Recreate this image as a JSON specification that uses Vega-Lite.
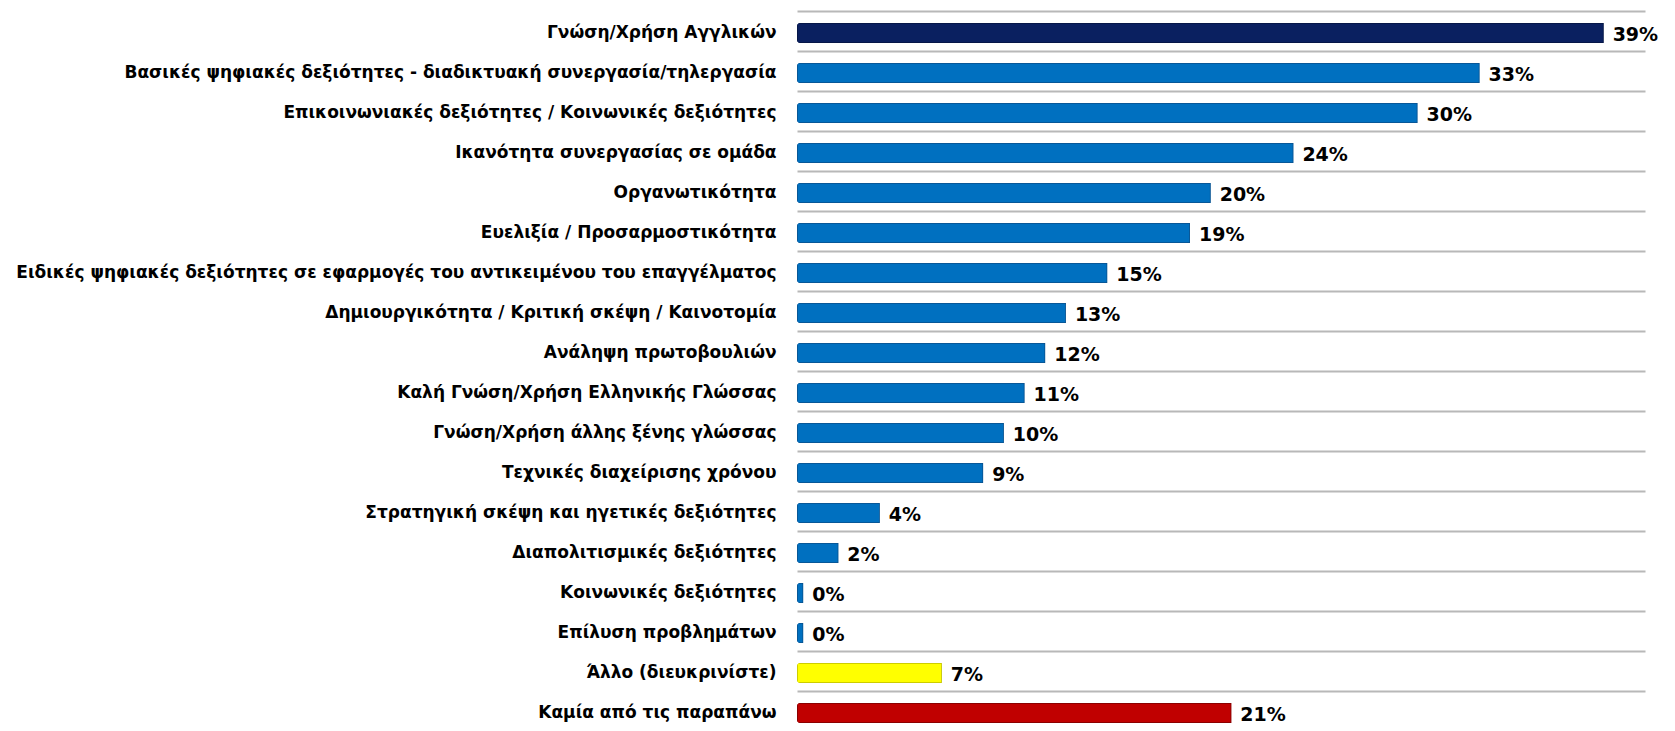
{
  "$schema": "https://vega.github.io/schema/vega-lite/v6.json",
  "autosize": "none",
  "width": 848,
  "height": 720,
  "padding": {"left": 797, "top": 13, "right": 30, "bottom": 0},
  "background": "white",
  "config": {"view": {"stroke": null}},
  "data": {
    "values": [
      {"skill": "Γνώση/Χρήση Αγγλικών", "value": 0.39, "group": "top"},
      {"skill": "Βασικές ψηφιακές δεξιότητες  - διαδικτυακή συνεργασία/τηλεργασία", "value": 0.33, "group": "skill"},
      {"skill": "Επικοινωνιακές δεξιότητες / Κοινωνικές δεξιότητες", "value": 0.30, "group": "skill"},
      {"skill": "Ικανότητα συνεργασίας σε ομάδα", "value": 0.24, "group": "skill"},
      {"skill": "Οργανωτικότητα", "value": 0.20, "group": "skill"},
      {"skill": "Ευελιξία / Προσαρμοστικότητα", "value": 0.19, "group": "skill"},
      {"skill": "Ειδικές ψηφιακές δεξιότητες σε εφαρμογές του αντικειμένου του επαγγέλματος", "value": 0.15, "group": "skill"},
      {"skill": "Δημιουργικότητα / Κριτική σκέψη / Καινοτομία", "value": 0.13, "group": "skill"},
      {"skill": "Ανάληψη πρωτοβουλιών", "value": 0.12, "group": "skill"},
      {"skill": "Καλή Γνώση/Χρήση Ελληνικής Γλώσσας", "value": 0.11, "group": "skill"},
      {"skill": "Γνώση/Χρήση άλλης ξένης γλώσσας", "value": 0.10, "group": "skill"},
      {"skill": "Τεχνικές διαχείρισης χρόνου", "value": 0.09, "group": "skill"},
      {"skill": "Στρατηγική σκέψη και ηγετικές δεξιότητες", "value": 0.04, "group": "skill"},
      {"skill": "Διαπολιτισμικές δεξιότητες", "value": 0.02, "group": "skill"},
      {"skill": "Κοινωνικές δεξιότητες", "value": 0.003, "group": "skill"},
      {"skill": "Επίλυση προβλημάτων", "value": 0.003, "group": "skill"},
      {"skill": "Άλλο (διευκρινίστε)", "value": 0.07, "group": "other"},
      {"skill": "Καμία από τις παραπάνω", "value": 0.21, "group": "none"}
    ]
  },
  "encoding": {
    "y": {
      "field": "skill",
      "type": "nominal",
      "sort": null,
      "title": null,
      "scale": {"paddingInner": 0.5, "paddingOuter": 0.25},
      "axis": {
        "domain": false,
        "ticks": false,
        "grid": true,
        "bandPosition": -0.6,
        "gridColor": "#b8b8b8",
        "gridWidth": 2,
        "labelFont": "DejaVu Sans",
        "labelFontWeight": "bold",
        "labelFontSize": 17,
        "labelColor": "#000000",
        "labelPadding": 21,
        "labelLimit": 0
      }
    },
    "x": {
      "field": "value",
      "type": "quantitative",
      "scale": {"domain": [0, 0.41], "nice": false},
      "axis": null
    }
  },
  "layer": [
    {
      "mark": {"type": "bar", "cornerRadiusTopLeft": 3, "cornerRadiusBottomLeft": 3, "strokeWidth": 1.5},
      "encoding": {
        "color": {
          "field": "group",
          "type": "nominal",
          "scale": {"domain": ["top", "skill", "other", "none"], "range": ["#0a2060", "#0070c0", "#ffff00", "#c00000"]},
          "legend": null
        },
        "stroke": {
          "field": "group",
          "type": "nominal",
          "scale": {"domain": ["top", "skill", "other", "none"], "range": ["#061540", "#0a4f8a", "#bdbd00", "#7a0000"]},
          "legend": null
        }
      }
    },
    {
      "mark": {"type": "text", "align": "left", "baseline": "middle", "dx": 9, "dy": 2, "font": "DejaVu Sans", "fontWeight": "bold", "fontSize": 19, "color": "#000000"},
      "encoding": {
        "text": {"field": "value", "type": "quantitative", "format": ".0%"}
      }
    }
  ]
}
